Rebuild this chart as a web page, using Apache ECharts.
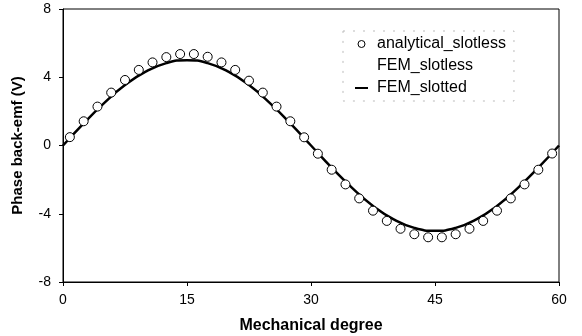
<!DOCTYPE html>
<html>
<head>
<meta charset="utf-8">
<script src="https://cdn.jsdelivr.net/npm/echarts@6/dist/echarts.min.js"></script>
<style>
  html, body { margin: 0; padding: 0; background: #fff; }
  #chart { width: 582px; height: 336px; }
</style>
</head>
<body>
<div id="chart"></div>
<script>
// Analytical (slotless) back-emf, one sample per 1.667 mechanical degrees
const analyticalDeg = [0.83, 2.5, 4.17, 5.83, 7.5, 9.17, 10.83, 12.5, 14.17, 15.83, 17.5, 19.17,
  20.83, 22.5, 24.17, 25.83, 27.5, 29.17, 30.83, 32.5, 34.17, 35.83, 37.5, 39.17,
  40.83, 42.5, 44.17, 45.83, 47.5, 49.17, 50.83, 52.5, 54.17, 55.83, 57.5, 59.17];
const analyticalEmf = [0.49, 1.42, 2.28, 3.1, 3.84, 4.43, 4.87, 5.18, 5.36, 5.36, 5.2, 4.87,
  4.43, 3.8, 3.1, 2.28, 1.42, 0.48, -0.48, -1.42, -2.28, -3.1, -3.82, -4.42,
  -4.88, -5.2, -5.38, -5.38, -5.2, -4.88, -4.42, -3.82, -3.1, -2.28, -1.42, -0.47];

// FEM (slotted) back-emf
const femDeg = [0, 2.5, 5, 7.5, 10, 12.5, 15, 17.5, 20, 22.5, 25, 27.5, 30,
  32.5, 35, 37.5, 40, 42.5, 45, 47.5, 50, 52.5, 55, 57.5, 60];
const femSlottedEmf = [0, 1.3, 2.5, 3.54, 4.33, 4.83, 5.0, 4.83, 4.33, 3.54, 2.5, 1.3, 0,
  -1.3, -2.5, -3.54, -4.33, -4.83, -5.0, -4.83, -4.33, -3.54, -2.5, -1.3, 0];

const xTicks = [0, 15, 30, 45, 60];
const yTicks = [-8, -4, 0, 4, 8];

const seriesNames = ['analytical_slotless', 'FEM_slotless', 'FEM_slotted'];

const pair = (xs, ys) => xs.map((x, i) => [x, ys[i]]);

const font = 'Liberation Sans, Arial, sans-serif';
const chart = echarts.init(document.getElementById('chart'), null, { renderer: 'canvas' });

chart.setOption({
  animation: false,
  backgroundColor: '#fff',
  grid: {
    left: 63, right: 23, top: 9, bottom: 54,
    containLabel: false, outerBoundsMode: 'none',
    show: true, borderColor: '#000', borderWidth: 1, backgroundColor: 'transparent'
  },
  legend: {
    orient: 'vertical',
    left: 343, top: 31,
    padding: [5, 8, 5, 12],
    itemGap: 6,
    itemWidth: 13, itemHeight: 7,
    borderColor: '#bbb', borderWidth: 1, borderType: [2, 8],
    textStyle: { fontFamily: font, fontSize: 16, color: '#000', padding: [0, 0, 0, 4] },
    data: [
      { name: seriesNames[0], icon: 'circle', itemStyle: { color: '#fff', borderColor: '#000', borderWidth: 1 } },
      { name: seriesNames[1], icon: 'none' },
      { name: seriesNames[2], icon: 'path://M0,0 L13,0 L13,2 L0,2 Z', itemStyle: { color: '#000', borderWidth: 0 } }
    ]
  },
  xAxis: {
    type: 'value',
    min: xTicks[0], max: xTicks[xTicks.length - 1], interval: 15,
    name: 'Mechanical degree',
    nameLocation: 'middle', nameGap: 36,
    nameTextStyle: { fontFamily: font, fontSize: 16, fontWeight: 'bold', color: '#000' },
    axisLine: { onZero: false, lineStyle: { color: '#000', width: 1 } },
    axisTick: { show: true, inside: false, length: 4, lineStyle: { color: '#000' } },
    axisLabel: { fontFamily: font, fontSize: 14, color: '#000', margin: 11 },
    splitLine: { show: false }
  },
  yAxis: {
    type: 'value',
    min: yTicks[0], max: yTicks[yTicks.length - 1], interval: 4,
    name: 'Phase back-emf (V)',
    nameLocation: 'middle', nameGap: 38, nameRotate: 90,
    nameTextStyle: { fontFamily: font, fontSize: 15, fontWeight: 'bold', color: '#000' },
    axisLine: { show: true, onZero: false, lineStyle: { color: '#000', width: 1 } },
    axisTick: { show: true, inside: false, length: 4, lineStyle: { color: '#000' } },
    axisLabel: { fontFamily: font, fontSize: 14, color: '#000', margin: 12 },
    splitLine: { show: false }
  },
  series: [
    {
      name: seriesNames[2],
      type: 'line',
      data: pair(femDeg, femSlottedEmf),
      smooth: 0.5,
      showSymbol: false,
      symbol: 'none',
      lineStyle: { color: '#000', width: 2.5 },
      itemStyle: { color: '#000' },
      z: 2
    },
    {
      name: seriesNames[1],
      type: 'line',
      data: [],
      showSymbol: false,
      lineStyle: { opacity: 0 }
    },
    {
      name: seriesNames[0],
      type: 'scatter',
      data: pair(analyticalDeg, analyticalEmf),
      symbol: 'circle',
      symbolSize: 9,
      itemStyle: { color: '#fff', borderColor: '#000', borderWidth: 1, opacity: 1 },
      z: 3
    }
  ]
});
</script>
</body>
</html>
